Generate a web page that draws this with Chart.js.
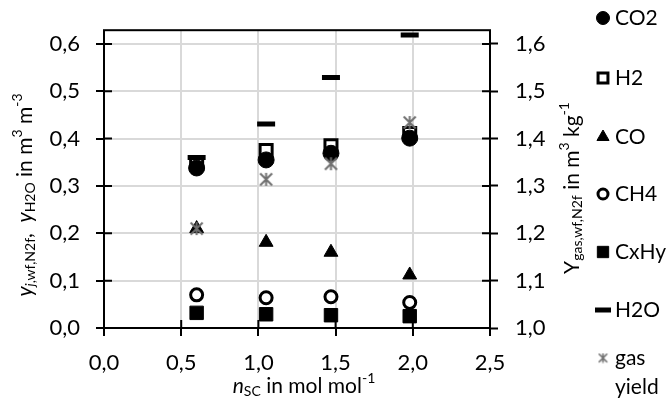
<!DOCTYPE html>
<html>
<head>
<meta charset="utf-8">
<script src="https://cdn.jsdelivr.net/npm/chart.js@4.4.1/dist/chart.umd.min.js"></script>
<style>
    html, body { margin: 0; padding: 0; background: #fff; }
    canvas { display: block; }
</style>
</head>
<body>
<canvas id="chart" width="671" height="414"></canvas>
<script>
// steam-to-carbon ratio n_SC
var nSC = [0.6, 1.05, 1.47, 1.98];

// gas composition, left axis
var co2 = [0.338, 0.355, 0.369, 0.401];
var h2 = [0.348, 0.375, 0.385, 0.411];
var co = [0.210, 0.181, 0.160, 0.112];
var ch4 = [0.070, 0.064, 0.066, 0.054];
var cxhy = [0.032, 0.029, 0.027, 0.025];
var h2o = [0.360, 0.431, 0.529, 0.619];

// gas yield, right axis
var gasYield = [1.210, 1.314, 1.347, 1.434];

var xTicks = [0, 0.5, 1.0, 1.5, 2.0, 2.5];
var leftTicks = [0, 0.1, 0.2, 0.3, 0.4, 0.5, 0.6];
var rightTicks = [1.0, 1.1, 1.2, 1.3, 1.4, 1.5, 1.6];

var FONT = 'Lato, "Liberation Sans", sans-serif';
var TICK = 8;

function points(xs, ys) {
    return xs.map(function(x, i) {
        return { x: x, y: ys[i] };
    });
}

function comma(v) {
    return v.toFixed(1).replace('.', ',');
}

function starMark(size, width, color) {
    var c = document.createElement('canvas');
    c.width = c.height = size;
    var g = c.getContext('2d');
    var p = width / 2 + 0.5;
    var q = size - p;
    g.strokeStyle = color;
    g.lineWidth = width;
    g.beginPath();
    g.moveTo(p, p); g.lineTo(q, q);
    g.moveTo(q, p); g.lineTo(p, q);
    g.moveTo(size / 2, p - 0.5); g.lineTo(size / 2, q + 0.5);
    g.stroke();
    return c;
}

var starBig = starMark(15, 2, '#6f6f6f');
var starSmall = starMark(11, 1.6, '#6f6f6f');

function series(label, ys, style, axis, order) {
    return {
        label: label,
        data: points(nSC, ys),
        yAxisID: axis,
        order: order,
        showLine: false,
        pointStyle: style.shape,
        pointRadius: style.r,
        pointHoverRadius: style.r,
        pointBorderWidth: style.bw,
        pointHoverBorderWidth: style.bw,
        backgroundColor: style.fill,
        borderColor: style.line,
        legendRadius: style.lr,
        legendMark: style.lm
    };
}

var datasets = [
    series('CO2', co2, { shape: 'circle', r: 8, bw: 1, fill: '#000', line: '#000', lr: 6.5 }, 'y', 2),
    series('H2', h2, { shape: 'rect', r: 8.5, bw: 3, fill: '#fff', line: '#000', lr: 7 }, 'y', 3),
    series('CO', co, { shape: 'triangle', r: 8, bw: 1, fill: '#000', line: '#000', lr: 7 }, 'y', 2),
    series('CH4', ch4, { shape: 'circle', r: 6, bw: 3, fill: '#fff', line: '#000', lr: 5 }, 'y', 2),
    series('CxHy', cxhy, { shape: 'rect', r: 9.5, bw: 1, fill: '#000', line: '#000', lr: 8 }, 'y', 2),
    series('H2O', h2o, { shape: 'line', r: 9, bw: 5, fill: '#000', line: '#000', lr: 8 }, 'y', 1),
    series('gas yield', gasYield, { shape: starBig, r: 8, bw: 0, fill: '#6f6f6f', line: '#6f6f6f', lm: starSmall }, 'y2', 0)
];

// text with italic, subscript and superscript pieces
function richText(ctx, runs, size) {
    var parts = runs.map(function(run) {
        var kind = run[1] || '';
        var small = kind.indexOf('s') >= 0 || kind.indexOf('p') >= 0;
        var px = small ? Math.round(size * 0.66) : size;
        var font = (kind.indexOf('i') >= 0 ? 'italic ' : '') + px + 'px ' + FONT;
        ctx.font = font;
        var dy = kind.indexOf('s') >= 0 ? size * 0.28 : (kind.indexOf('p') >= 0 ? -size * 0.38 : 0);
        return { text: run[0], font: font, dy: dy, w: ctx.measureText(run[0]).width };
    });
    var total = parts.reduce(function(s, p) { return s + p.w; }, 0);
    var x = -total / 2;
    ctx.textBaseline = 'middle';
    ctx.textAlign = 'left';
    parts.forEach(function(p) {
        ctx.font = p.font;
        ctx.fillText(p.text, x, p.dy);
        x += p.w;
    });
}

var leftTitle = [['y', 'i'], ['j', 'is'], [',wf,N2f', 's'], [',  ', ''], ['y', 'i'], ['H2O', 's'], [' in m', ''], ['3', 'p'], [' m', ''], ['-3', 'p']];
var rightTitle = [['Y', ''], ['gas,wf,N2f', 's'], [' in m', ''], ['3', 'p'], [' kg', ''], ['-1', 'p']];
var bottomTitle = [['n', 'i'], ['SC', 's'], [' in mol mol', ''], ['-1', 'p']];

var decorations = {
    id: 'decorations',
    beforeDatasetsDraw: function(chart) {
        var ctx = chart.ctx;
        var a = chart.chartArea;
        var s = chart.scales;
        ctx.save();
        ctx.strokeStyle = '#000';
        ctx.lineWidth = 2;
        ctx.strokeRect(a.left, a.top, a.right - a.left, a.bottom - a.top);
        // inner half of the crossing tick marks
        ctx.beginPath();
        s.x.ticks.forEach(function(t) {
            var px = s.x.getPixelForValue(t.value);
            ctx.moveTo(px, a.bottom);
            ctx.lineTo(px, a.bottom - TICK);
        });
        s.y.ticks.forEach(function(t) {
            var py = s.y.getPixelForValue(t.value);
            ctx.moveTo(a.left, py);
            ctx.lineTo(a.left + TICK, py);
        });
        s.y2.ticks.forEach(function(t) {
            var py = s.y2.getPixelForValue(t.value);
            ctx.moveTo(a.right, py);
            ctx.lineTo(a.right - TICK, py);
        });
        ctx.stroke();
        ctx.restore();
    },
    afterDraw: function(chart) {
        var ctx = chart.ctx;
        ctx.save();
        ctx.fillStyle = '#000';

        ctx.save();
        ctx.translate(25, 195);
        ctx.rotate(-Math.PI / 2);
        richText(ctx, leftTitle, 21);
        ctx.restore();

        ctx.save();
        ctx.translate(572, 188);
        ctx.rotate(-Math.PI / 2);
        richText(ctx, rightTitle, 21);
        ctx.restore();

        ctx.save();
        ctx.translate(304, 386);
        richText(ctx, bottomTitle, 21);
        ctx.restore();

        // legend
        var rows = [18, 78, 137, 194, 252, 310, 358];
        chart.data.datasets.forEach(function(ds, i) {
            var y = rows[i];
            if (ds.legendMark) {
                ctx.drawImage(ds.legendMark, 603 - ds.legendMark.width / 2, y - ds.legendMark.height / 2);
            } else {
                ctx.fillStyle = ds.backgroundColor;
                ctx.strokeStyle = ds.borderColor;
                ctx.lineWidth = ds.pointBorderWidth;
                Chart.helpers.drawPoint(ctx, {
                    pointStyle: ds.pointStyle,
                    radius: ds.legendRadius,
                    rotation: 0,
                    borderWidth: ds.pointBorderWidth
                }, 603, y);
            }
            ctx.fillStyle = '#000';
            ctx.font = '21px ' + FONT;
            ctx.textAlign = 'left';
            ctx.textBaseline = 'middle';
            var words = ds.label.split(' ');
            words.forEach(function(w, k) {
                ctx.fillText(w, 615, y + k * 29);
            });
        });
        ctx.restore();
    }
};

function tickFont() {
    return { family: FONT, size: 22 };
}

new Chart(document.getElementById('chart'), {
    type: 'scatter',
    data: { datasets: datasets },
    options: {
        responsive: false,
        animation: false,
        layout: { padding: { left: 0, right: 81, top: 22, bottom: 0 } },
        plugins: {
            legend: { display: false },
            tooltip: { enabled: false }
        },
        scales: {
            x: {
                type: 'linear',
                min: 0,
                max: 2.5,
                afterFit: function(scale) { scale.height = 86; },
                afterBuildTicks: function(scale) {
                    scale.ticks = xTicks.map(function(v) { return { value: v }; });
                },
                ticks: {
                    color: '#000',
                    font: tickFont(),
                    padding: 14,
                    callback: function(v) { return comma(v); }
                },
                grid: { color: '#d9d9d9', lineWidth: 2, tickColor: '#000', tickWidth: 2, tickLength: TICK },
                border: { display: false }
            },
            y: {
                position: 'left',
                min: 0,
                max: 0.629,
                afterFit: function(scale) { scale.width = 104; },
                afterBuildTicks: function(scale) {
                    scale.ticks = leftTicks.map(function(v) { return { value: v }; });
                },
                ticks: {
                    color: '#000',
                    font: tickFont(),
                    padding: 16,
                    callback: function(v) { return comma(v); }
                },
                grid: { color: '#d9d9d9', lineWidth: 2, tickColor: '#000', tickWidth: 2, tickLength: TICK },
                border: { display: false }
            },
            y2: {
                position: 'right',
                min: 1.0,
                max: 1.629,
                afterFit: function(scale) { scale.width = 100; },
                afterBuildTicks: function(scale) {
                    scale.ticks = rightTicks.map(function(v) { return { value: v }; });
                },
                ticks: {
                    color: '#000',
                    font: tickFont(),
                    padding: 17,
                    callback: function(v) { return comma(v); }
                },
                grid: { drawOnChartArea: false, tickColor: '#000', tickWidth: 2, tickLength: TICK },
                border: { display: false }
            }
        }
    },
    plugins: [decorations]
});
</script>
</body>
</html>
